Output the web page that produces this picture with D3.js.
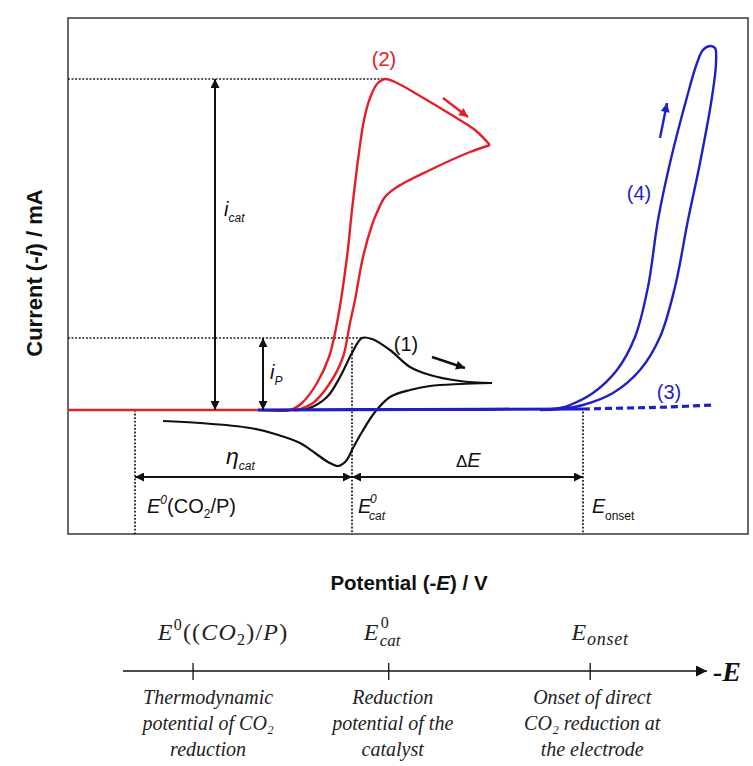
<!DOCTYPE html>
<html>
<head>
<meta charset="utf-8">
<script src="https://cdn.jsdelivr.net/npm/d3@7"></script>
<style>
  html, body { margin: 0; padding: 0; background: #ffffff; }
  svg { display: block; }
</style>
</head>
<body>
<div id="chart"></div>
<script>
// ---------------- DATA (potential in arbitrary V units, current in arbitrary mA units) ----------------
// Curve (1): catalyst CV without substrate
const cv1Forward = [[1.92,0],[2.22,0],[2.39,0.1],[2.59,1.3],[2.72,3.3],[2.84,5.7],[2.94,7.2],[3.04,7.1],[3.22,6.0],[3.42,4.3],[3.62,3.5],[3.92,2.9],[4.24,2.7]];
const cv1Reverse = [[4.24,2.7],[3.92,2.6],[3.62,2.4],[3.42,2.0],[3.22,1.3],[3.07,-0.2],[2.94,-2.2],[2.85,-3.8],[2.78,-5.1],[2.70,-5.6],[2.60,-5.2],[2.47,-4.3],[2.32,-3.3],[2.07,-2.4],[1.82,-1.8],[1.32,-1.3],[0.95,-1.1]];
// Curve (2): catalytic wave with CO2
const cv2Forward = [[0,0],[1.92,0],[2.22,0],[2.34,0.7],[2.49,2.7],[2.61,5.3],[2.69,8.7],[2.79,15.3],[2.84,20.0],[2.90,25.0],[2.96,29.0],[3.02,31.2],[3.09,32.6],[3.17,33.1],[3.27,32.8],[3.52,31.4],[3.82,29.6],[4.07,28.0],[4.22,26.5]];
const cv2Reverse = [[4.22,26.5],[4.02,25.8],[3.62,24.0],[3.29,22.3],[3.17,21.3],[3.10,20.0],[3.04,18.5],[2.95,15.3],[2.87,11.0],[2.82,8.7],[2.75,5.3],[2.62,2.7],[2.45,0.7],[2.29,0]];
// Curve (3): bare electrode without CO2
const cv3Solid = [[1.90,0],[3.5,0.05],[5.15,0.1]];
const cv3Dashed = [[5.15,0.1],[5.6,0.2],[6.0,0.3],[6.45,0.5]];
// Curve (4): bare electrode with CO2 (direct reduction)
const cv4Loop = [[4.72,0],[4.92,0.2],[5.02,0.5],[5.25,1.7],[5.49,4.0],[5.67,7.3],[5.80,12.3],[5.90,19.0],[6.02,24.7],[6.19,31.3],[6.29,34.7],[6.35,36.0],[6.42,36.4],[6.47,36.2],[6.48,34.7],[6.44,31.3],[6.32,24.7],[6.20,19.0],[6.07,12.3],[5.92,7.3],[5.72,4.0],[5.45,1.7],[5.15,0.5],[4.92,0.1],[4.72,0]];

// Characteristic potentials and currents
const potE0 = 0.67, potEcat = 2.84, potEonset = 5.15;
const iCatLevel = 33.1, iPLevel = 7.2;
const iCatArrowX = 1.47, iPArrowX = 1.95;
const scanArrows = [
  {from:[3.64,5.3], to:[3.97,4.2], color:"#111111"},
  {from:[3.75,31.2], to:[4.00,29.3], color:"#e3202a"},
  {from:[5.92,27.2], to:[5.99,30.7], color:"#1f1fc8"}
];
const curveLabels = [
  {text:"(1)", v:3.38, c:5.9, color:"#111111"},
  {text:"(2)", v:3.16, c:34.4, color:"#e3202a"},
  {text:"(3)", v:6.01, c:1.1, color:"#1f1fc8"},
  {text:"(4)", v:5.71, c:21.0, color:"#1f1fc8"}
];
// Schematic potential axis (bottom)
const schemeTicks = [1.2, 4.55, 8.0];
const schemeDescriptions = [
  ["Thermodynamic", "potential of CO₂", "reduction"],
  ["Reduction", "potential of the", "catalyst"],
  ["Onset of direct", "CO₂ reduction at", "the electrode"]
];

// ---------------- DRAWING ----------------
const W = 753, H = 766;
const svg = d3.select("#chart").append("svg").attr("width", W).attr("height", H);
const sans = "'Liberation Sans', Arial, sans-serif";
const serif = "'Liberation Serif', 'DejaVu Serif', serif";

const frame = {left:68, right:748, top:18, bottom:534};
const x = d3.scaleLinear().domain([0, 6.8]).range([frame.left, frame.right]);
const y = d3.scaleLinear().domain([-12.4, 39.2]).range([frame.bottom, frame.top]);

const defs = svg.append("defs");
function marker(id, color, w, h) {
  defs.append("marker").attr("id", id)
    .attr("viewBox", "0 0 10 10").attr("refX", 10).attr("refY", 5)
    .attr("markerUnits", "userSpaceOnUse")
    .attr("markerWidth", w).attr("markerHeight", h)
    .attr("orient", "auto-start-reverse")
    .append("path").attr("d", "M0,0 L10,5 L0,10 Z").attr("fill", color);
}
marker("ahBlack", "#111", 11, 9);
marker("ahRed", "#e3202a", 11, 9);
marker("ahBlue", "#1f1fc8", 10, 9);
marker("ahAxis", "#111", 13, 11);

const g = svg.append("g");

// frame
g.append("rect").attr("x", frame.left).attr("y", frame.top)
  .attr("width", frame.right - frame.left).attr("height", frame.bottom - frame.top)
  .attr("fill", "none").attr("stroke", "#444").attr("stroke-width", 1.6);

// dotted guide lines
const dotted = (x1, y1, x2, y2) => g.append("line")
  .attr("x1", x1).attr("y1", y1).attr("x2", x2).attr("y2", y2)
  .attr("stroke", "#111").attr("stroke-width", 1.7).attr("stroke-dasharray", "1.8,1.8");
dotted(x(0), y(iCatLevel), x(3.17), y(iCatLevel));
dotted(x(0), y(iPLevel), x(2.94), y(iPLevel));
dotted(x(potE0), y(0), x(potE0), frame.bottom);
dotted(x(potEcat), y(6.7), x(potEcat), frame.bottom);
dotted(x(potEonset), y(0.2), x(potEonset), frame.bottom);

const line = d3.line().x(d => x(d[0])).y(d => y(d[1])).curve(d3.curveCatmullRom.alpha(0.5));

// curve 2 (red)
[cv2Forward, cv2Reverse].forEach(d => g.append("path").attr("d", line(d))
  .attr("fill", "none").attr("stroke", "#e3202a").attr("stroke-width", 2.4).attr("stroke-linejoin", "round"));
// curve 1 (black)
[cv1Forward, cv1Reverse].forEach(d => g.append("path").attr("d", line(d))
  .attr("fill", "none").attr("stroke", "#111").attr("stroke-width", 2.2).attr("stroke-linejoin", "round"));
// curve 4 (blue loop)
g.append("path").attr("d", line(cv4Loop)).attr("fill", "none")
  .attr("stroke", "#1f1fc8").attr("stroke-width", 2.4).attr("stroke-linejoin", "round");
// curve 3 (blue baseline)
g.append("path").attr("d", line(cv3Solid)).attr("fill", "none")
  .attr("stroke", "#1f1fc8").attr("stroke-width", 3.2);
g.append("path").attr("d", line(cv3Dashed)).attr("fill", "none")
  .attr("stroke", "#1f1fc8").attr("stroke-width", 3.2).attr("stroke-dasharray", "7,4");

// double arrows
const dbl = (x1, y1, x2, y2) => g.append("line")
  .attr("x1", x1).attr("y1", y1).attr("x2", x2).attr("y2", y2)
  .attr("stroke", "#111").attr("stroke-width", 2)
  .attr("marker-start", "url(#ahBlack)").attr("marker-end", "url(#ahBlack)");
dbl(x(iCatArrowX), y(iCatLevel), x(iCatArrowX), y(0));
dbl(x(iPArrowX), y(iPLevel), x(iPArrowX), y(0));
const hArrowY = y(-6.7);
dbl(x(potE0), hArrowY, x(potEcat), hArrowY);
dbl(x(potEcat), hArrowY, x(potEonset), hArrowY);

// scan direction arrows
scanArrows.forEach(a => {
  const id = a.color === "#111111" ? "ahBlack" : (a.color === "#e3202a" ? "ahRed" : "ahBlue");
  g.append("line").attr("x1", x(a.from[0])).attr("y1", y(a.from[1]))
    .attr("x2", x(a.to[0])).attr("y2", y(a.to[1]))
    .attr("stroke", a.color).attr("stroke-width", 2.4).attr("marker-end", `url(#${id})`);
});

// curve labels
curveLabels.forEach(l => g.append("text").attr("x", x(l.v)).attr("y", y(l.c))
  .attr("text-anchor", "middle").attr("font-family", sans).attr("font-size", 20)
  .attr("fill", l.color).text(l.text));

// annotation labels in plot
function subLabel(px, py, main, sub, opts = {}) {
  const t = g.append("text").attr("x", px).attr("y", py).attr("font-family", sans).attr("fill", "#111");
  t.append("tspan").attr("font-style", "italic").attr("font-size", opts.size || 20).text(main);
  t.append("tspan").attr("font-style", "italic").attr("font-size", 12).attr("dy", opts.dy || 6).text(sub);
  return t;
}
subLabel(x(1.56), y(19.4), "i", "cat");
subLabel(x(2.02), y(3.1), "i", "P");
subLabel(x(1.58), y(-5.4), "η", "cat", {size: 23});
// ΔE
{
  const t = g.append("text").attr("x", x(3.88)).attr("y", y(-5.7)).attr("font-family", sans).attr("fill", "#111");
  t.append("tspan").attr("font-size", 17).text("Δ");
  t.append("tspan").attr("font-size", 20).attr("font-style", "italic").text("E");
}
// E0(CO2/P)
{
  const t = g.append("text").attr("x", x(potE0) + 12).attr("y", y(-10.3)).attr("font-family", sans).attr("fill", "#111").attr("font-size", 20);
  t.append("tspan").attr("font-style", "italic").text("E");
  t.append("tspan").attr("font-style", "italic").attr("font-size", 12).attr("dy", -9).text("0");
  t.append("tspan").attr("dy", 9).text("(CO");
  t.append("tspan").attr("font-size", 12).attr("dy", 5).text("2");
  t.append("tspan").attr("dy", -5).text("/P)");
}
// E0cat
{
  const bx0 = x(potEcat) + 6, by = y(-10.3);
  g.append("text").attr("x", bx0).attr("y", by).attr("font-family", sans).attr("font-size", 20).attr("font-style", "italic").attr("fill", "#111").text("E");
  g.append("text").attr("x", bx0 + 12).attr("y", by - 10).attr("font-family", sans).attr("font-size", 12).attr("font-style", "italic").attr("fill", "#111").text("0");
  g.append("text").attr("x", bx0 + 11).attr("y", by + 7).attr("font-family", sans).attr("font-size", 12).attr("font-style", "italic").attr("fill", "#111").text("cat");
}
// Eonset
{
  const bx0 = x(potEonset) + 9, by = y(-10.3);
  g.append("text").attr("x", bx0).attr("y", by).attr("font-family", sans).attr("font-size", 20).attr("font-style", "italic").attr("fill", "#111").text("E");
  g.append("text").attr("x", bx0 + 13).attr("y", by + 7).attr("font-family", sans).attr("font-size", 12).attr("fill", "#111").text("onset");
}

// axis titles
{
  const t = svg.append("text").attr("transform", "translate(42,273) rotate(-90)")
    .attr("text-anchor", "middle").attr("font-family", sans).attr("font-weight", "bold")
    .attr("font-size", 22).attr("fill", "#111");
  t.append("tspan").text("Current (-");
  t.append("tspan").attr("font-style", "italic").text("i");
  t.append("tspan").text(") / mA");
}
{
  const t = svg.append("text").attr("x", 409).attr("y", 590)
    .attr("text-anchor", "middle").attr("font-family", sans).attr("font-weight", "bold")
    .attr("font-size", 20.5).attr("fill", "#111");
  t.append("tspan").text("Potential (-");
  t.append("tspan").attr("font-style", "italic").text("E");
  t.append("tspan").text(") / V");
}

// ---------------- schematic axis ----------------
const bx = d3.scaleLinear().domain([0, 10]).range([123, 707]);
const axisY = 671;
const sg = svg.append("g");
sg.append("line").attr("x1", bx(0)).attr("y1", axisY).attr("x2", bx(10)).attr("y2", axisY)
  .attr("stroke", "#111").attr("stroke-width", 1.6).attr("marker-end", "url(#ahAxis)");
sg.selectAll("line.tick").data(schemeTicks).enter().append("line").attr("class", "tick")
  .attr("x1", d => bx(d)).attr("x2", d => bx(d)).attr("y1", axisY - 8).attr("y2", axisY + 9)
  .attr("stroke", "#111").attr("stroke-width", 1.3);
sg.append("text").attr("x", bx(10) + 6).attr("y", axisY + 10).attr("font-family", serif)
  .attr("font-weight", "bold").attr("font-style", "italic").attr("font-size", 28).attr("fill", "#111").text("-E");

// symbols above ticks
const symY = 640;
{
  const t = sg.append("text").attr("x", bx(schemeTicks[0]) + 30).attr("y", symY).attr("text-anchor", "middle")
    .attr("font-family", serif).attr("font-size", 24).attr("letter-spacing", 1.2).attr("fill", "#222");
  t.append("tspan").attr("font-style", "italic").text("E");
  t.append("tspan").attr("font-size", 16).attr("dy", -10).text("0");
  t.append("tspan").attr("dy", 10).text("((");
  t.append("tspan").attr("font-style", "italic").text("CO");
  t.append("tspan").attr("font-size", 16).attr("dy", 5).text("2");
  t.append("tspan").attr("dy", -5).text(")/");
  t.append("tspan").attr("font-style", "italic").text("P");
  t.append("tspan").text(")");
}
{
  const cx = bx(schemeTicks[1]);
  sg.append("text").attr("x", cx - 25).attr("y", symY)
    .attr("font-family", serif).attr("font-size", 24).attr("font-style", "italic").attr("fill", "#222").text("E");
  sg.append("text").attr("x", cx - 8).attr("y", symY - 12).attr("font-family", serif)
    .attr("font-size", 16).attr("fill", "#222").text("0");
  sg.append("text").attr("x", cx - 9).attr("y", symY + 6).attr("font-family", serif)
    .attr("font-size", 17).attr("font-style", "italic").attr("fill", "#222").text("cat");
}
{
  const cx = bx(schemeTicks[2]);
  const t = sg.append("text").attr("x", cx + 10).attr("y", symY).attr("text-anchor", "middle")
    .attr("font-family", serif).attr("font-style", "italic").attr("font-size", 24).attr("letter-spacing", 0.8).attr("fill", "#222");
  t.append("tspan").text("E");
  t.append("tspan").attr("font-size", 18).attr("dy", 5).text("onset");
}

// descriptions
schemeDescriptions.forEach((lines, i) => {
  lines.forEach((s, j) => {
    sg.append("text").attr("x", bx(schemeTicks[i]) + (i === 0 ? 15 : (i === 1 ? 4 : 2)))
      .attr("y", 704 + j * 26).attr("text-anchor", "middle")
      .attr("font-family", serif).attr("font-style", "italic").attr("font-size", 20)
      .attr("fill", "#222").text(s);
  });
});
</script>
</body>
</html>
